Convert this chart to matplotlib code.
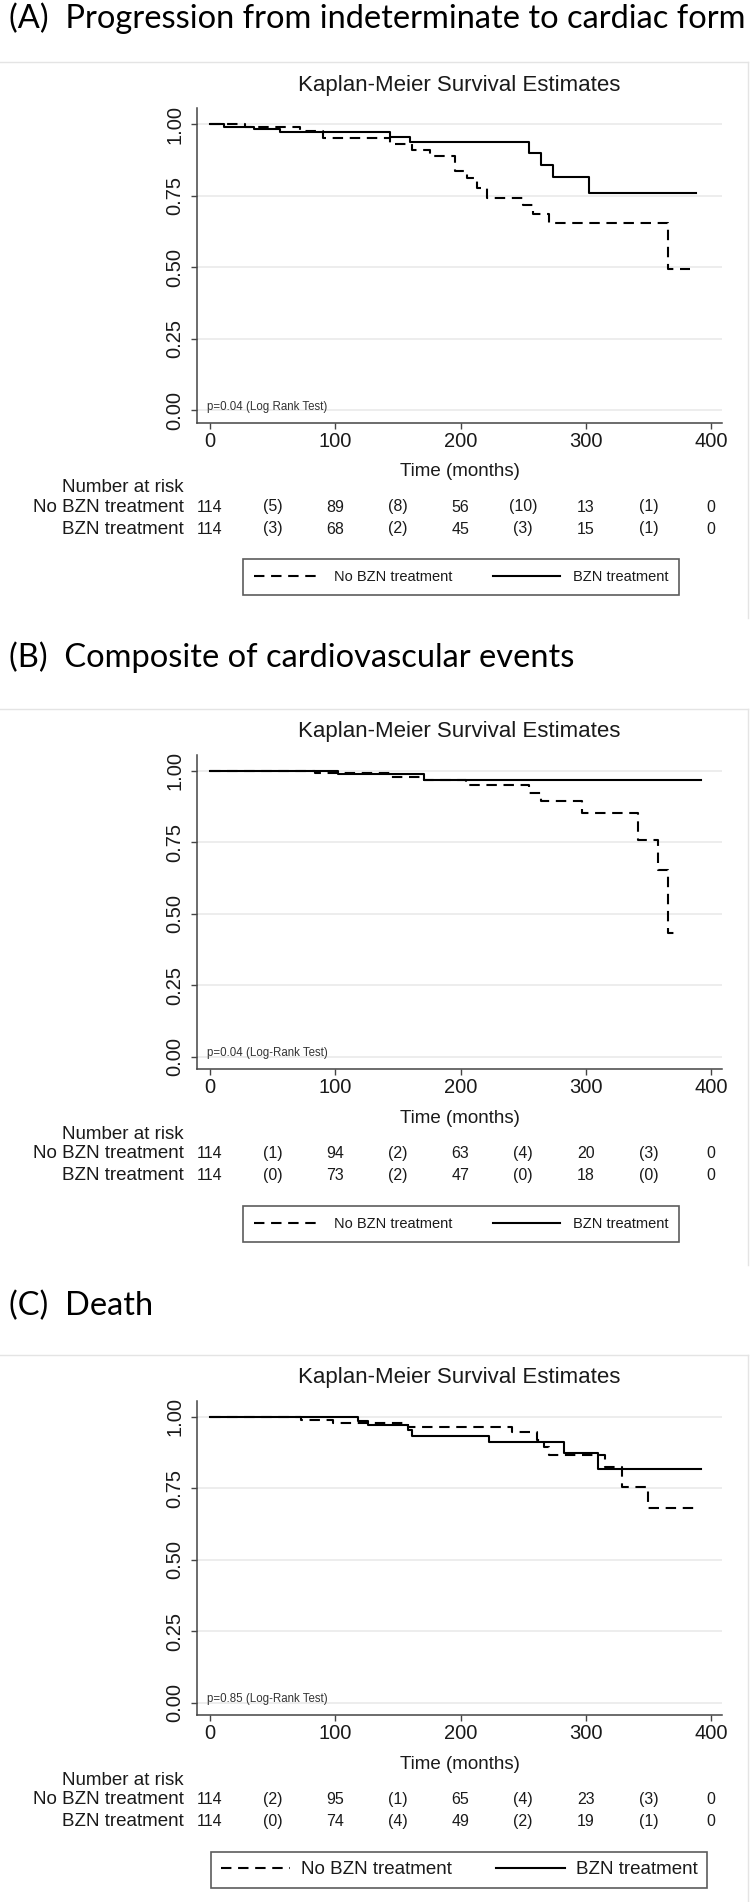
import matplotlib
matplotlib.use("Agg")
import matplotlib.pyplot as plt
from matplotlib import transforms

# ---- data ----
panel_titles = [
    "(A)  Progression from indeterminate to cardiac form",
    "(B)  Composite of cardiovascular events",
    "(C)  Death",
]
p_texts = ["p=0.04 (Log Rank Test)", "p=0.04 (Log-Rank Test)", "p=0.85 (Log-Rank Test)"]
group_labels = ["No BZN treatment", "BZN treatment"]

# Kaplan-Meier steps (time in months, survival), last time = end of follow-up
a_no_t = [0, 28, 72, 90, 144, 161, 176, 196, 205, 213, 221, 250, 258, 271, 366]
a_no_s = [1.0, 0.991, 0.974, 0.950, 0.929, 0.910, 0.888, 0.835, 0.810, 0.775, 0.740, 0.717, 0.685, 0.655, 0.492]
a_no_end = 383
a_bzn_t = [0, 11, 35, 56, 144, 160, 255, 264, 274, 303]
a_bzn_s = [1.0, 0.991, 0.981, 0.971, 0.953, 0.938, 0.897, 0.857, 0.814, 0.760]
a_bzn_end = 388

b_no_t = [0, 84, 144, 171, 204, 255, 264, 297, 342, 358, 366]
b_no_s = [1.0, 0.991, 0.977, 0.967, 0.950, 0.923, 0.894, 0.851, 0.758, 0.653, 0.433]
b_no_end = 374
b_bzn_t = [0, 102, 171]
b_bzn_s = [1.0, 0.988, 0.967]
b_bzn_end = 392

c_no_t = [0, 73, 98, 158, 241, 261, 267, 271, 315, 329, 350]
c_no_s = [1.0, 0.990, 0.977, 0.965, 0.945, 0.918, 0.895, 0.866, 0.823, 0.755, 0.682]
c_no_end = 390
c_bzn_t = [0, 118, 126, 158, 161, 223, 283, 310]
c_bzn_s = [1.0, 0.986, 0.971, 0.953, 0.934, 0.913, 0.874, 0.818]
c_bzn_end = 392

# number at risk (at 0,100,...,400) and censored in between (at 50,150,...)
risk_times = [0, 100, 200, 300, 400]
cens_times = [50, 150, 250, 350]
a_no_risk, a_no_cens = [114, 89, 56, 13, 0], [5, 8, 10, 1]
a_bzn_risk, a_bzn_cens = [114, 68, 45, 15, 0], [3, 2, 3, 1]
b_no_risk, b_no_cens = [114, 94, 63, 20, 0], [1, 2, 4, 3]
b_bzn_risk, b_bzn_cens = [114, 73, 47, 18, 0], [0, 2, 0, 0]
c_no_risk, c_no_cens = [114, 95, 65, 23, 0], [2, 1, 4, 3]
c_bzn_risk, c_bzn_cens = [114, 74, 49, 19, 0], [0, 4, 2, 1]

# ---- layout (pixels) ----
W, H = 750, 1902
offsets = [0, 646.7, 1292.7]
header_y = [18, 657, 1306]
STATA = "Liberation Sans"
INK = "#1a1a1a"

fig = plt.figure(figsize=(W / 100, H / 100), dpi=100)
fig.patch.set_facecolor("white")


def fx(px):
    return px / W


def fy(px):
    return 1 - px / H


def draw_panel(i, curves, risks, big_legend=False):
    off = offsets[i]
    fig.text(fx(9), fy(header_y[i]), panel_titles[i], family="Lato",
             fontsize=23.5, ha="left", va="center", color="black")

    # faint graph-region frame
    fig.add_artist(plt.Line2D([fx(0), fx(748)], [fy(62 + off), fy(62 + off)],
                              color="#e4e4e4", lw=1))
    bottom = min(618 + off, H)
    fig.add_artist(plt.Line2D([fx(748), fx(748)], [fy(62 + off), fy(bottom)],
                              color="#e4e4e4", lw=1))

    ax = fig.add_axes([fx(197), fy(422.6 + off), fx(722 - 197), (422.6 - 108) / H])
    ax.set_xlim(-10.4, 408.8)
    ax.set_ylim(-0.044, 1.056)
    for side in ("top", "right"):
        ax.spines[side].set_visible(False)
    for side in ("left", "bottom"):
        ax.spines[side].set_color("#444444")
        ax.spines[side].set_linewidth(1.1)
    ax.set_xticks([0, 100, 200, 300, 400])
    ax.set_yticks([0, 0.25, 0.5, 0.75, 1.0])
    ax.set_yticklabels(["0.00", "0.25", "0.50", "0.75", "1.00"])
    ax.tick_params(axis="both", length=4, width=1, color="#444444",
                   labelsize=14.5, labelcolor=INK)
    ax.tick_params(axis="x", pad=2.5)
    ax.tick_params(axis="y", pad=5)
    for lbl in ax.get_xticklabels() + ax.get_yticklabels():
        lbl.set_family(STATA)
    for lbl in ax.get_yticklabels():
        lbl.set_rotation(90)
        lbl.set_va("center")
    ax.grid(axis="y", color="#ececec", lw=1.3)
    ax.set_axisbelow(True)

    styles = [dict(ls=(0, (5, 3.2))), dict(ls="-")]
    for (t, s, end), st, name in zip(curves, styles, group_labels):
        ax.step(list(t) + [end], list(s) + [s[-1]], where="post",
                color="black", lw=1.5, label=name, **st)

    ax.text(-2.5, 0.012, p_texts[i], family=STATA, fontsize=8.3,
            color="#333333", ha="left", va="center")

    fig.text(fx(459.5), fy(85 + off), "Kaplan-Meier Survival Estimates",
             family=STATA, fontsize=16, ha="center", va="center", color=INK)
    fig.text(fx(460), fy(471.7 + off), "Time (months)", family=STATA,
             fontsize=13.5, ha="center", va="center", color=INK)

    # number at risk table
    fig.text(fx(184), fy(488 + off), "Number at risk", family=STATA,
             fontsize=13.5, ha="right", va="center", color=INK)
    blend = transforms.blended_transform_factory(ax.transData, fig.transFigure)
    for row_y, name, (risk, cens) in zip([507, 529], group_labels, risks):
        fig.text(fx(184), fy(row_y + off), name, family=STATA, fontsize=13.5,
                 ha="right", va="center", color=INK)
        for t, n in zip(risk_times, risk):
            ax.text(t, fy(row_y + off), str(n), transform=blend, family=STATA,
                    fontsize=11.5, ha="center", va="center", color=INK, clip_on=False)
        for t, n in zip(cens_times, cens):
            ax.text(t, fy(row_y + off), f"({n})", transform=blend, family=STATA,
                    fontsize=11.5, ha="center", va="center", color=INK, clip_on=False)

    if big_legend:
        x0, x1, lsize, hl, tpad, bpad = 211.5, 706.7, 13.5, 3.7, 0.55, 0.5
    else:
        x0, x1, lsize, hl, tpad, bpad = 242.6, 679.4, 10.5, 4.6, 0.9, 0.75
    y0, y1 = 560 + off, 594 + off
    leg = ax.legend(loc="center", ncol=2, mode="expand",
                    bbox_to_anchor=(fx(x0), fy(y1), fx(x1 - x0), (y1 - y0) / H),
                    bbox_transform=fig.transFigure, frameon=True, fancybox=False,
                    borderaxespad=0, handlelength=hl, handletextpad=tpad,
                    borderpad=bpad, prop={"family": STATA, "size": lsize})
    leg.get_frame().set_edgecolor("#333333")
    leg.get_frame().set_linewidth(1.2)
    for txt in leg.get_texts():
        txt.set_color(INK)


draw_panel(0, [(a_no_t, a_no_s, a_no_end), (a_bzn_t, a_bzn_s, a_bzn_end)],
           [(a_no_risk, a_no_cens), (a_bzn_risk, a_bzn_cens)])
draw_panel(1, [(b_no_t, b_no_s, b_no_end), (b_bzn_t, b_bzn_s, b_bzn_end)],
           [(b_no_risk, b_no_cens), (b_bzn_risk, b_bzn_cens)])
draw_panel(2, [(c_no_t, c_no_s, c_no_end), (c_bzn_t, c_bzn_s, c_bzn_end)],
           [(c_no_risk, c_no_cens), (c_bzn_risk, c_bzn_cens)], big_legend=True)

fig.savefig("out.png", dpi=100)
